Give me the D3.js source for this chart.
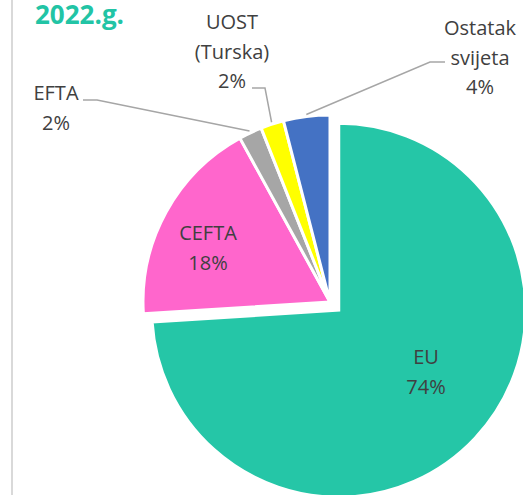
<!doctype html>
<html>
<head>
<meta charset="utf-8">
<script src="https://cdnjs.cloudflare.com/ajax/libs/d3/7.8.5/d3.min.js"></script>
<style>
  body { margin: 0; background: #fff; }
  svg { display: block; }
  text { font-family: "Open Sans", sans-serif; }
  text.lbl { font-size: 20px; fill: #404040; }
  text.title { font-size: 26px; font-weight: bold; fill: #22c4a5; }
  path.leader { fill: none; stroke: #a6a6a6; stroke-width: 1.5; }
</style>
</head>
<body>
<svg width="523" height="495"></svg>
<script>
// data
var categories = ["EU", "CEFTA", "EFTA", "UOST (Turska)", "Ostatak svijeta"];
var values = [74, 18, 2, 2, 4];
var labelLines = [["EU"], ["CEFTA"], ["EFTA"], ["UOST", "(Turska)"], ["Ostatak", "svijeta"]];
var colors = ["#25c6a7", "#ff66cc", "#a6a6a6", "#ffff00", "#4472c4"];

// layout
var cx = 330, cy = 302, radius = 187;
var explode = [12, 0, 0, 0, 0];
// label anchor (centre x, first baseline y) and leader elbow per slice
var labelPos = [[426, 364], [208, 240], [56, 100], [232, 29], [480, 35]];
var elbows = [null, null, [[83, 100], [97, 100]], [[252, 88], [265, 88]], [[445, 62], [430, 62]]];
var lineGap = 29.5;

var svg = d3.select("svg");

svg.append("line")
  .attr("x1", 12).attr("x2", 12).attr("y1", 0).attr("y2", 495)
  .attr("stroke", "#d9d9d9").attr("stroke-width", 2);

svg.append("text").attr("class", "title")
  .attr("x", 35).attr("y", 24).text("2022.g.");

var pie = d3.pie().sort(null).value(function (d) { return d; });
var arcs = pie(values);
var arc = d3.arc().innerRadius(0).outerRadius(radius);

var g = svg.append("g").attr("transform", "translate(" + cx + "," + cy + ")");

g.selectAll("path.slice").data(arcs).enter()
  .append("path")
  .attr("class", "slice")
  .attr("d", arc)
  .attr("fill", function (d, i) { return colors[i]; })
  .attr("stroke", "#fff")
  .attr("stroke-width", 3)
  .attr("stroke-linejoin", "miter")
  .attr("transform", function (d, i) {
    var a = (d.startAngle + d.endAngle) / 2;
    return "translate(" + (Math.sin(a) * explode[i]) + "," + (-Math.cos(a) * explode[i]) + ")";
  });

// leader lines
arcs.forEach(function (d, i) {
  if (!elbows[i]) return;
  var a = (d.startAngle + d.endAngle) / 2;
  var r = radius + 2;
  var end = [cx + Math.sin(a) * r, cy - Math.cos(a) * r];
  var pts = elbows[i].concat([end]);
  svg.append("path").attr("class", "leader").attr("d", d3.line()(pts));
});

// labels
arcs.forEach(function (d, i) {
  var t = svg.append("text").attr("class", "lbl").attr("text-anchor", "middle");
  var lines = labelLines[i].concat([Math.round(d.value / d3.sum(values) * 100) + "%"]);
  lines.forEach(function (s, k) {
    t.append("tspan").attr("x", labelPos[i][0]).attr("y", labelPos[i][1] + k * lineGap).text(s);
  });
});
</script>
</body>
</html>
